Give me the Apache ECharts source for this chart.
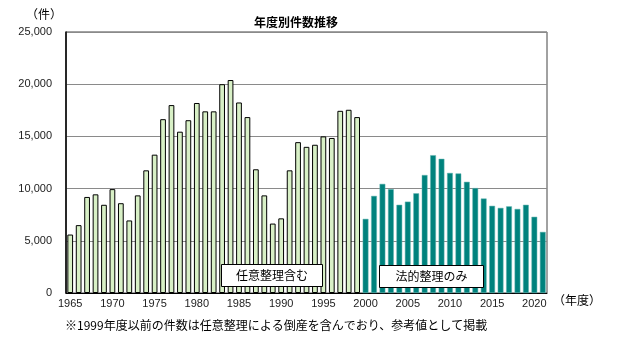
<!DOCTYPE html>
<html>
<head>
<meta charset="utf-8">
<script src="https://cdn.jsdelivr.net/npm/echarts@6/dist/echarts.min.js"></script>
<style>html,body{margin:0;padding:0;background:#fff}#c{width:624px;height:360px}</style>
</head>
<body>
<div id="c"></div>
<script>
const years = [];
for (let y = 1965; y <= 2021; y++) years.push(String(y));
// 1965-1999: including voluntary liquidation (任意整理含む)
const inclVoluntary = [5600, 6500, 9200, 9450, 8450, 9950, 8600, 6950, 9350, 11750,
  13250, 16650, 18000, 15450, 16550, 18200, 17400, 17400, 20000, 20400,
  18250, 16850, 11850, 9350, 6650, 7150, 11750, 14450, 14000, 14200,
  15000, 14850, 17450, 17550, 16850];
// 2000-2021: legal liquidation only (法的整理のみ)
const legalOnly = [7100, 9300, 10450, 9950, 8450, 8750, 9550, 11300, 13200, 12850,
  11500, 11450, 10650, 10050, 9050, 8350, 8150, 8300, 8050, 8450, 7300, 5850];
const yTicks = [0, 5000, 10000, 15000, 20000, 25000];

const nA = inclVoluntary.length;
const dataA = years.map((y, i) => i < nA ? inclVoluntary[i] : null);
const dataB = years.map((y, i) => i >= nA ? legalOnly[i - nA] : null);

const font = '"Noto Sans CJK JP", "Noto Sans", sans-serif';
const chart = echarts.init(document.getElementById('c'), null, {renderer: 'canvas'});
chart.setOption({
  animation: false,
  textStyle: {fontFamily: font},
  title: {
    text: '年度別件数推移', left: 291, top: 11, textAlign: 'center',
    textStyle: {fontSize: 12, fontWeight: 'bold', color: '#000', fontFamily: font}
  },
  grid: {left: 66, right: 77, top: 32, bottom: 67, show: true, borderColor: '#444', borderWidth: 1, containLabel: false},
  xAxis: {
    type: 'category', data: years,
    axisTick: {show: false},
    axisLine: {lineStyle: {color: '#000', width: 1}},
    axisLabel: {
      interval: (i) => (i % 5) === 0,
      formatter: (v) => v,
      color: '#222', fontSize: 11, margin: 5, fontFamily: 'Liberation Sans, sans-serif'
    }
  },
  yAxis: {
    type: 'value', min: yTicks[0], max: yTicks[yTicks.length - 1], interval: yTicks[1] - yTicks[0],
    axisLine: {show: true, lineStyle: {color: '#000', width: 1.5}},
    axisTick: {show: false},
    splitLine: {lineStyle: {color: '#8a8a8a', width: 1}},
    axisLabel: {
      formatter: (v) => v.toLocaleString('en-US'),
      color: '#222', fontSize: 11, margin: 14, fontFamily: 'Liberation Sans, sans-serif'
    }
  },
  series: [
    {
      type: 'bar', data: dataA, barWidth: '68%', barGap: '-100%', z: 2,
      itemStyle: {color: '#d8f0c6', borderColor: '#000', borderWidth: 1}
    },
    {
      type: 'bar', data: dataB, barWidth: '68%', barGap: '-100%', z: 2,
      itemStyle: {color: '#00827d', borderColor: '#5fb3ae', borderWidth: 0.5}
    }
  ],
  graphic: [
    {type: 'text', z: 100, left: 26, top: 8, style: {text: '（件）', fill: '#000', font: '12px ' + font}},
    {type: 'text', z: 100, left: 553, top: 294, style: {text: '（年度）', fill: '#000', font: '12px ' + font}},
    {type: 'group', z: 100, left: 221, top: 264, children: [
      {type: 'rect', z: 100, shape: {x: 0, y: 0, width: 101, height: 22}, style: {fill: '#fff', stroke: '#000', lineWidth: 1}},
      {type: 'text', z: 101, style: {x: 50.5, y: 11, text: '任意整理含む', textAlign: 'center', textVerticalAlign: 'middle', fill: '#000', font: '12px ' + font}}
    ]},
    {type: 'group', z: 100, left: 379, top: 265, children: [
      {type: 'rect', z: 100, shape: {x: 0, y: 0, width: 104, height: 22}, style: {fill: '#fff', stroke: '#000', lineWidth: 1}},
      {type: 'text', z: 101, style: {x: 52, y: 11, text: '法的整理のみ', textAlign: 'center', textVerticalAlign: 'middle', fill: '#000', font: '12px ' + font}}
    ]},
    {type: 'text', z: 100, left: 65, top: 319, style: {text: '※1999年度以前の件数は任意整理による倒産を含んでおり、参考値として掲載', fill: '#000', font: '12px ' + font}}
  ]
});
</script>
</body>
</html>
